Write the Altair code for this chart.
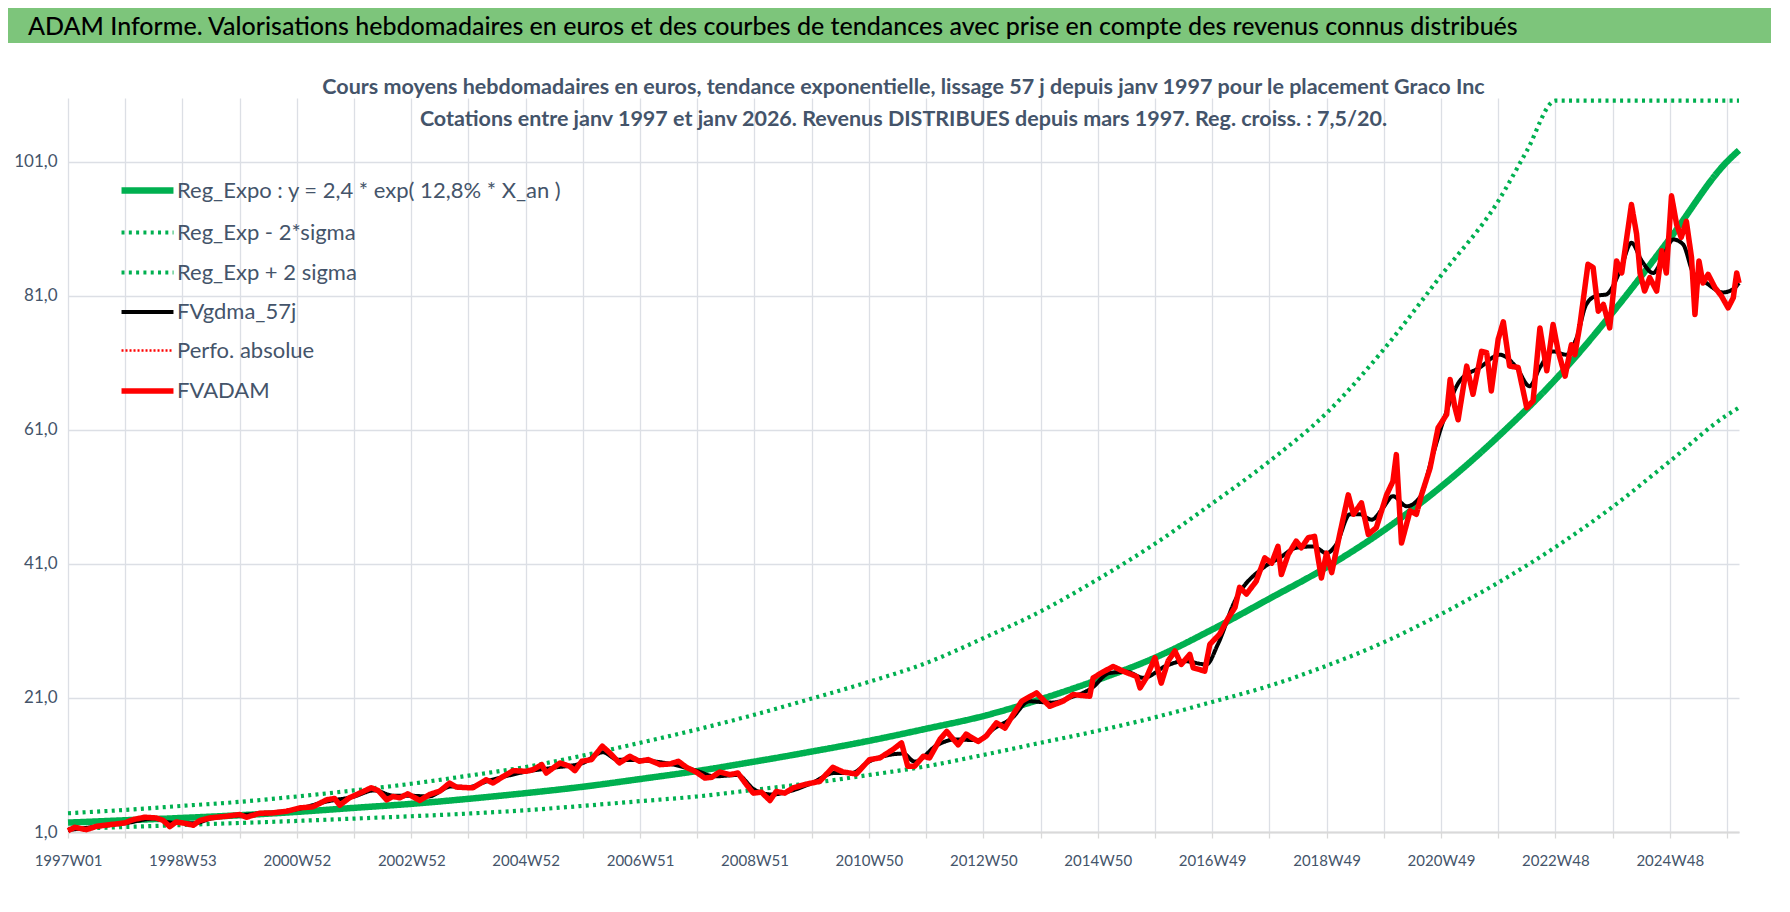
import altair as alt
import pandas as pd

FONT = "Lato"

HEADER = ("ADAM Informe. Valorisations hebdomadaires en euros et des courbes de tendances "
          "avec prise en compte des revenus connus distribués")
SUBTITLE = [
    "Cours moyens hebdomadaires en euros, tendance exponentielle, lissage 57 j depuis janv 1997  pour le  placement Graco Inc",
    "Cotations entre janv 1997 et janv 2026. Revenus DISTRIBUES depuis mars 1997.  Reg. croiss. : 7,5/20.",
]

SERIES = [
    "Reg_Expo : y = 2,4 * exp( 12,8% *  X_an )",
    "Reg_Exp - 2*sigma",
    "Reg_Exp + 2 sigma",
    "FVgdma_57j",
    "Perfo. absolue",
    "FVADAM",
]
SERIES_COLORS = ["#00B050", "#00B050", "#00B050", "#000000", "#FF0000", "#FF0000"]

X_TICK_LABELS = ["1997W01", "1998W53", "2000W52", "2002W52", "2004W52", "2006W51", "2008W51",
                 "2010W50", "2012W50", "2014W50", "2016W49", "2018W49", "2020W49", "2022W48", "2024W48"]
Y_TICKS = [1, 21, 41, 61, 81, 101]

# x positions are in years of 52 weekly points since 1997W01
REG_T = [0, 1, 2, 3, 4, 5, 6, 7, 8, 9, 10, 11, 12, 13, 14, 15, 16, 17, 18, 19, 20,
         21, 22, 23, 24, 25, 26, 27, 28, 29, 29.21]
REG_V = [2.4, 2.75, 3.1, 3.5, 4.0, 4.6, 5.2, 5.95, 6.8, 7.75, 8.9, 10.1, 11.5, 13.0, 14.6,
         16.4, 18.3, 20.8, 23.7, 27.0, 31.2, 35.8, 40.5, 46.0, 52.5, 60.0, 68.5, 78.5, 89.5,
         101.0, 102.7]

LOW_T = [0, 1, 2, 3, 4, 5, 6, 7, 8, 9, 10, 11, 12, 13, 14, 15, 16, 17, 18, 19, 20,
         21, 22, 23, 24, 25, 26, 27, 28, 29, 29.21]
LOW_V = [1.45, 1.75, 2.05, 2.35, 2.65, 3.0, 3.35, 3.75, 4.25, 4.9, 5.6, 6.3, 7.3, 8.3, 9.5,
         10.8, 12.5, 14.3, 16.1, 18.1, 20.4, 22.8, 25.8, 29.3, 33.5, 38.2, 43.5, 49.5, 56.3,
         63.2, 64.3]

UP_T = [0, 1, 2, 3, 4, 5, 6, 7, 8, 9, 10, 11, 12, 13, 14, 15, 16, 17, 18, 19, 20,
        21, 22, 23, 24, 25, 25.5, 26.0, 29.21]
UP_V = [3.8, 4.3, 4.9, 5.5, 6.3, 7.2, 8.2, 9.4, 10.7, 12.4, 14.3, 16.3, 18.5, 20.9, 23.4,
        26.2, 29.9, 33.9, 38.7, 44.0, 50.0, 56.3, 63.5, 73.0, 84.0, 95.1, 102.6, 110.1, 110.1]

FVADAM_T = [0, 0.12, 0.32, 0.5, 0.73, 0.99, 1.14, 1.34, 1.54, 1.66, 1.78, 1.89, 2.04, 2.19,
            2.30, 2.48, 2.77, 3.0, 3.12, 3.35, 3.58, 3.82, 4.05, 4.28, 4.52, 4.66, 4.75, 4.92,
            5.10, 5.30, 5.42, 5.57, 5.68, 5.80, 5.94, 6.15, 6.32, 6.50, 6.67, 6.79, 7.02, 7.08,
            7.31, 7.43, 7.61, 7.78, 8.01, 8.13, 8.28, 8.36, 8.6, 8.77, 8.86, 8.98, 9.15, 9.34,
            9.47, 9.64, 9.82, 9.99, 10.14, 10.35, 10.52, 10.67, 10.81, 10.98, 11.13, 11.25,
            11.39, 11.57, 11.71, 11.86, 11.98, 12.12, 12.27, 12.38, 12.53, 12.68, 12.91, 13.14,
            13.37, 13.55, 13.78, 14.01, 14.19, 14.42, 14.57, 14.68, 14.8, 14.95, 15.06, 15.24,
            15.36, 15.56, 15.7, 15.91, 16.05, 16.23, 16.38, 16.52, 16.67, 16.93, 17.16, 17.39,
            17.57, 17.86, 17.92, 18.12, 18.27, 18.44, 18.68, 18.74, 18.85, 19.0, 19.11, 19.23,
            19.35, 19.46, 19.61, 19.67, 19.87, 19.96, 20.13, 20.28, 20.4, 20.48, 20.6, 20.77,
            20.92, 21.04, 21.15, 21.21, 21.33, 21.47, 21.56, 21.68, 21.79, 21.91, 22.0, 22.09,
            22.23, 22.38, 22.47, 22.61, 22.73, 22.87, 23.05, 23.16, 23.22, 23.31, 23.46, 23.57,
            23.66, 23.81, 23.95, 24.1, 24.16, 24.24, 24.3, 24.45, 24.56, 24.71, 24.8, 24.88,
            25.0, 25.09, 25.2, 25.35, 25.5, 25.61, 25.73, 25.85, 25.96, 26.05, 26.17, 26.28,
            26.34, 26.43, 26.57, 26.66, 26.75, 26.84, 26.95, 27.07, 27.16, 27.33, 27.42, 27.48,
            27.56, 27.65, 27.77, 27.86, 27.94, 28.03, 28.12, 28.2, 28.29, 28.38, 28.44, 28.51,
            28.58, 28.67, 28.79, 28.9, 29.02, 29.11, 29.17, 29.21]
FVADAM_V = [1.2, 1.7, 1.35, 1.85, 2.1, 2.35, 2.85, 3.2, 3.1, 2.75, 1.8, 2.5, 2.3, 2.0,
            2.7, 3.1, 3.35, 3.6, 3.2, 3.8, 3.85, 4.1, 4.6, 4.75, 5.8, 6.0, 5.0, 6.1,
            6.8, 7.6, 7.2, 5.8, 6.3, 6.1, 6.7, 5.7, 6.6, 7.1, 8.3, 7.7, 7.6, 7.6,
            8.8, 8.3, 9.3, 10.15, 10.05, 10.3, 11.05, 9.8, 11.3, 10.8, 10.15, 11.55, 11.8, 13.8,
            12.8, 11.3, 12.3, 11.55, 11.8, 11.05, 11.15, 11.55, 10.65, 9.95, 9.05, 9.15,
            9.95, 9.55, 9.8, 8.05, 6.8, 6.95, 5.7, 7.05, 6.8, 7.6, 8.15, 8.55,
            10.65, 9.95, 9.65, 11.8, 12.05, 13.3, 14.3, 10.8, 10.8, 12.3, 12.05, 14.8,
            16.0, 14.0, 15.6, 14.5, 15.3, 17.3, 16.5, 18.5, 20.5, 21.75, 19.75, 20.5,
            21.5, 21.25, 24.0, 25.0, 25.7, 25.0, 24.2, 22.5, 24.0, 27.0, 23.2, 26.5,
            28.0, 26.0, 27.5, 25.5, 25.0, 29.0, 30.5, 32.9, 34.5, 37.5, 36.5, 38.4,
            41.9, 41.1, 43.6, 39.4, 42.4, 44.4, 43.4, 44.9, 45.1, 38.9, 42.6, 39.7,
            45.4, 51.3, 48.4, 50.1, 45.4, 46.4, 51.3, 53.3, 57.3, 44.1, 48.9, 48.4,
            51.3, 55.3, 61.3, 63.3, 68.5, 64.5, 62.5, 70.5, 66.3, 72.7, 72.5, 66.8,
            74.5, 77.1, 70.5, 70.3, 64.3, 65.3, 76.2, 69.8, 76.7, 72.7, 69.0, 73.7,
            72.2, 76.7, 85.7, 85.2, 78.7, 79.7, 76.2, 86.2, 84.4, 94.6, 90.2, 84.4,
            81.7, 83.7, 81.7, 87.7, 84.4, 95.9, 91.6, 89.7, 92.1, 86.7, 78.2, 86.2,
            82.9, 84.2, 82.2, 81.0, 79.2, 80.7, 84.4, 82.9]

GDMA_T = [0, 0.5, 1.0, 1.5, 1.8, 2.2, 2.5, 3.0, 3.5, 4.0, 4.5, 5.0, 5.35, 5.7, 6.0, 6.3, 6.7,
          7.0, 7.3, 7.6, 8.0, 8.5, 9.0, 9.35, 9.6, 10.0, 10.5, 11.0, 11.3, 11.7, 12.0, 12.3,
          12.7, 13.0, 13.4, 13.7, 14.0, 14.3, 14.6, 14.8, 15.2, 15.5, 15.9, 16.2, 16.5, 16.8,
          17.2, 17.5, 17.9, 18.2, 18.5, 18.8, 19.2, 19.5, 19.9, 20.1, 20.4, 20.89, 21.18,
          21.47, 21.77, 22.0, 22.17, 22.41, 22.58, 22.79, 22.99, 23.16, 23.4, 23.63, 23.86,
          24.04, 24.33, 24.68, 25.03, 25.32, 25.55, 25.73, 25.96, 26.19, 26.37, 26.54, 26.72,
          26.89, 27.13, 27.33, 27.51, 27.71, 27.88, 28.06, 28.23, 28.41, 28.64, 28.93, 29.11,
          29.21]
GDMA_V = [1.3, 1.8, 2.3, 3.0, 2.4, 2.3, 3.0, 3.5, 3.8, 4.4, 5.5, 6.3, 7.2, 6.4, 6.4, 6.3, 7.8,
          7.7, 8.5, 9.2, 10.0, 10.6, 11.3, 12.9, 11.8, 11.7, 11.2, 10.1, 9.3, 9.5, 7.3, 6.6,
          7.3, 8.3, 9.8, 9.8, 11.5, 12.4, 12.7, 11.5, 14.0, 14.8, 14.7, 16.5, 18.0, 20.5,
          20.3, 21.0, 22.5, 24.7, 24.9, 24.0, 25.8, 26.5, 26.0, 29.0, 35.5, 40.4, 41.9,
          43.4, 43.6, 42.6, 43.9, 48.4, 48.4, 47.6, 49.4, 51.1, 49.6, 50.9, 57.3,
          62.3, 68.3, 70.3, 72.2, 70.3, 67.5, 70.3, 72.7, 72.2, 74.7, 79.7, 81.0,
          81.2, 84.7, 88.9, 86.2, 84.4, 86.7, 89.4, 88.7, 84.4, 82.9, 81.5, 82.0,
          82.9]

TEXT_COLOR = "#44546A"
GRID_COLOR = "#DCDFE5"
HEADER_GREEN = "#7DC57B"

PLOT_W = 1671
PLOT_H = 734
AXIS_W = 60
HEADER_H = 35


def frame(t, v, name):
    return pd.DataFrame({"t": t, "v": v, "series": name})


data = {
    SERIES[0]: frame(REG_T, REG_V, SERIES[0]),
    SERIES[1]: frame(LOW_T, LOW_V, SERIES[1]),
    SERIES[2]: frame(UP_T, UP_V, SERIES[2]),
    SERIES[3]: frame(GDMA_T, GDMA_V, SERIES[3]),
    SERIES[5]: frame(FVADAM_T, FVADAM_V, SERIES[5]),
}

x_label_js = "[" + ",".join(
    "'" + (X_TICK_LABELS[k // 2] if k % 2 == 0 else "") + "'" for k in range(30)
) + "]"

legend = alt.Legend(
    orient="none", legendX=50, legendY=153, title=None,
    symbolType="stroke", symbolSize=2700, rowPadding=-23, labelOffset=0,
    labelFontSize=22, labelFont=FONT, labelColor=TEXT_COLOR, labelLimit=700,
)

color = alt.Color("series:N", scale=alt.Scale(domain=SERIES, range=SERIES_COLORS), legend=legend)
dash = alt.StrokeDash("series:N", scale=alt.Scale(
    domain=SERIES, range=[[1, 0], [3, 4.3], [3, 4.3], [1, 0], [2, 2], [1, 0]]), legend=legend)
width = alt.StrokeWidth("series:N", scale=alt.Scale(
    type="ordinal", domain=SERIES, range=[6.5, 4.2, 4.2, 4, 2.5, 5.5]), legend=legend)

x_enc = alt.X("t:Q", scale=alt.Scale(domain=[0, 29.21], nice=False, zero=False),
              axis=alt.Axis(title=None, values=list(range(30)), labelExpr=x_label_js + "[datum.value]",
                            labelOverlap=False, labelFlush=False, grid=True, gridColor=GRID_COLOR,
                            gridWidth=1.3, domainColor="#D9D9D9", domainWidth=2, tickColor="#D9D9D9",
                            tickSize=6, tickWidth=1.3, labelPadding=15, labelFontSize=15,
                            labelFont=FONT, labelColor=TEXT_COLOR))
y_enc = alt.Y("v:Q", scale=alt.Scale(domain=[1, 110.5], nice=False, zero=False),
              axis=alt.Axis(title=None, values=Y_TICKS,
                            labelExpr="replace(format(datum.value, '.1f'), '.', ',')",
                            grid=True, gridColor=GRID_COLOR, gridWidth=1.3, domain=False, ticks=False,
                            labelPadding=11, labelFontSize=17, labelFont=FONT, labelColor=TEXT_COLOR,
                            minExtent=AXIS_W, maxExtent=AXIS_W))


def line(name, interp):
    return alt.Chart(data[name]).mark_line(interpolate=interp, strokeJoin="round").encode(
        x=x_enc, y=y_enc, color=color, strokeDash=dash, strokeWidth=width, order="t:Q")


layers = [
    line(SERIES[0], "monotone"),
    line(SERIES[1], "monotone"),
    line(SERIES[2], "monotone"),
    line(SERIES[3], "monotone"),
    line(SERIES[5], "linear"),
]

main = alt.layer(*layers).properties(
    width=PLOT_W, height=PLOT_H,
    title=alt.TitleParams(SUBTITLE, font=FONT, fontSize=21.5, fontWeight="bold", color=TEXT_COLOR,
                          lineHeight=32, anchor="middle", offset=-32),
)

header_df = pd.DataFrame({"text": [HEADER]})
header_bar = alt.Chart(header_df).mark_rect(color=HEADER_GREEN).encode(
    x=alt.value(-AXIS_W), x2=alt.value(PLOT_W + 32), y=alt.value(0), y2=alt.value(HEADER_H))
header_text = alt.Chart(header_df).mark_text(
    align="left", baseline="middle", fontSize=25, fontWeight=500, font=FONT, color="#000000"
).encode(text="text:N", x=alt.value(-AXIS_W + 20), y=alt.value(HEADER_H / 2 + 1))
header = alt.layer(header_bar, header_text).properties(width=PLOT_W + 32, height=HEADER_H)

chart = alt.vconcat(header, main, spacing=33).properties(
    padding={"left": 0, "top": 0, "right": 0, "bottom": 0}, background="white"
).configure_view(strokeWidth=0)

chart.save("out.html", embed_options={"renderer": "svg", "actions": False})
